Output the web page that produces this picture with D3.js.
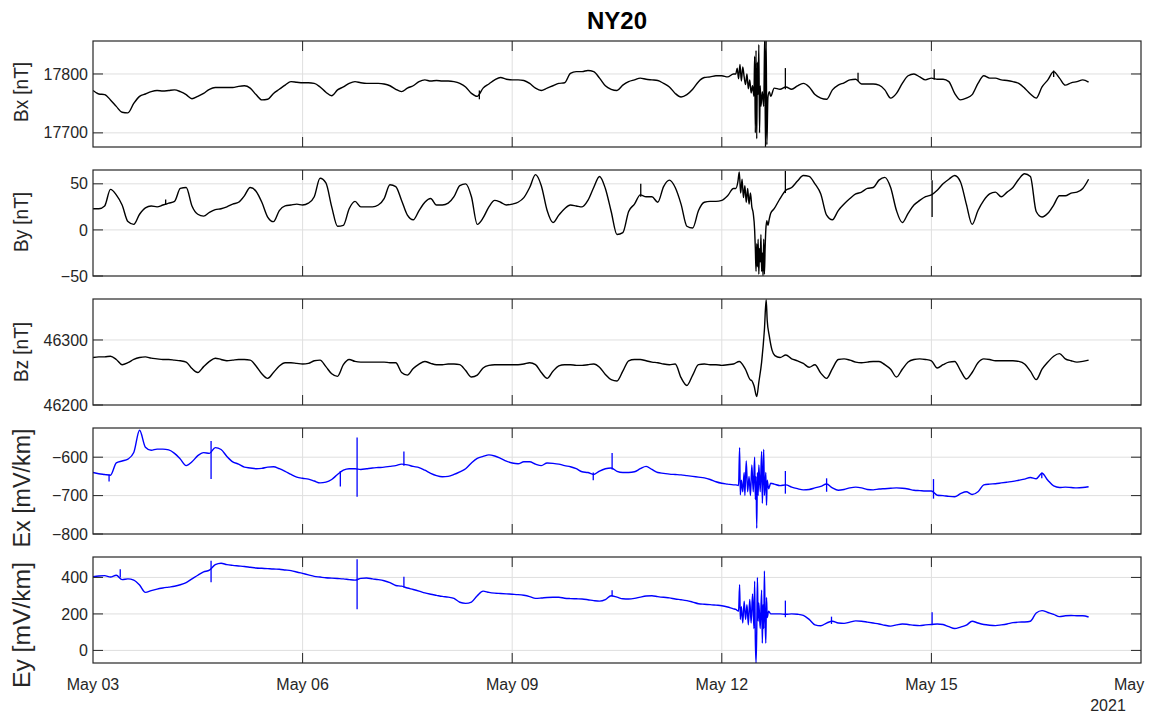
<!DOCTYPE html>
<html>
<head>
<meta charset="utf-8">
<script src="https://cdn.jsdelivr.net/npm/d3@7/dist/d3.min.js"></script>
<style>
  html, body { margin: 0; padding: 0; background: #fff; }
  svg { display: block; font-family: "Liberation Sans", Arial, Helvetica, sans-serif; }
</style>
</head>
<body>
<svg id="chart" width="1151" height="719"></svg>
<script>
// Station NY20, magnetic (Bx, By, Bz) and geoelectric (Ex, Ey) field, May 2021.
// Samples every 2 hours from 2021-05-03 00:00 (12 per day, one row per day).
const startTime = new Date(2021, 4, 3, 0, 0, 0);
const sampleHours = 2;

const bx = [
  17772,17766,17765,17756,17745,17735,17734,17750,17762,17766,17770,17772,
  17771,17772,17773,17770,17765,17758,17762,17767,17774,17777,17777,17777,
  17777,17779,17780,17776,17765,17756,17757,17767,17774,17781,17787,17786,
  17785,17785,17784,17778,17769,17763,17773,17778,17784,17787,17785,17784,
  17784,17784,17783,17780,17774,17770,17776,17780,17787,17790,17788,17789,
  17788,17788,17787,17784,17778,17767,17762,17776,17783,17790,17794,17791,
  17790,17790,17789,17784,17776,17772,17776,17780,17784,17785,17801,17804,
  17804,17806,17804,17793,17780,17774,17772,17781,17787,17790,17793,17791,
  17790,17789,17784,17778,17767,17761,17765,17774,17787,17794,17795,17797,
  17797,17795,17800,17812,17790,17781,17767,17756,17762,17776,17774,17778,
  17774,17780,17784,17778,17765,17759,17757,17773,17781,17785,17790,17791,
  17783,17783,17783,17781,17773,17759,17767,17784,17797,17800,17795,17790,
  17793,17791,17791,17787,17767,17756,17759,17765,17784,17797,17793,17793,
  17790,17789,17787,17784,17776,17766,17759,17778,17790,17804,17793,17781,
  17785,17787,17790,17786
];
const by = [
  23,23,26,44,38,27,9,6,17,24,26,25,
  27,29,31,45,46,26,17,15,19,22,23,25,
  28,30,37,46,42,30,14,9,21,26,27,28,
  27,29,36,56,51,25,4,5,23,31,25,25,
  25,27,34,49,47,32,16,11,21,30,34,27,
  27,29,36,48,50,36,6,13,25,32,30,27,
  28,30,35,46,60,48,21,8,16,23,27,26,
  25,32,46,58,45,20,-5,-3,20,28,38,36,
  36,30,47,54,46,28,4,2,21,30,31,31,
  32,37,45,57,41,36,0,0,7,23,34,43,
  46,53,59,58,50,39,16,11,21,28,34,39,
  41,45,46,54,57,46,21,8,18,27,32,36,
  38,43,50,55,59,52,28,6,21,32,39,41,
  36,41,46,55,61,58,20,14,18,27,37,37,
  40,41,45,55
];
const bz = [
  46273,46274,46274,46275,46270,46262,46265,46270,46273,46274,46272,46271,
  46270,46270,46269,46268,46266,46256,46250,46259,46267,46272,46270,46268,
  46269,46270,46270,46269,46260,46248,46241,46250,46260,46265,46265,46264,
  46263,46264,46268,46269,46259,46248,46244,46262,46270,46267,46266,46266,
  46266,46266,46266,46265,46265,46250,46246,46256,46263,46267,46264,46262,
  46262,46263,46263,46262,46253,46243,46246,46257,46261,46262,46262,46262,
  46262,46262,46263,46265,46262,46250,46241,46252,46260,46262,46262,46261,
  46261,46262,46263,46258,46247,46239,46237,46252,46268,46270,46270,46268,
  46266,46265,46263,46262,46263,46242,46230,46246,46262,46263,46262,46262,
  46261,46262,46263,46267,46256,46238,46215,46250,46306,46278,46273,46277,
  46271,46268,46264,46258,46262,46249,46241,46256,46270,46271,46269,46266,
  46265,46266,46267,46267,46262,46255,46243,46255,46266,46270,46271,46270,
  46268,46257,46262,46266,46267,46253,46240,46250,46265,46271,46270,46268,
  46268,46268,46268,46267,46263,46252,46239,46255,46266,46275,46279,46271,
  46268,46266,46267,46269
];
const ex = [
  -640,-643,-645,-647,-615,-610,-605,-588,-530,-574,-582,-579,
  -579,-581,-590,-605,-622,-612,-596,-588,-590,-575,-580,-598,
  -612,-618,-626,-628,-630,-629,-626,-625,-630,-637,-645,-652,
  -655,-657,-662,-667,-665,-658,-645,-634,-630,-630,-632,-630,
  -628,-627,-626,-624,-622,-618,-620,-624,-627,-634,-642,-648,
  -651,-650,-645,-638,-630,-615,-603,-598,-594,-597,-603,-610,
  -615,-617,-612,-612,-618,-622,-615,-616,-618,-622,-625,-630,
  -638,-640,-645,-636,-630,-628,-637,-640,-640,-638,-630,-624,
  -632,-640,-642,-644,-645,-646,-648,-650,-652,-654,-658,-664,
  -668,-670,-672,-674,-680,-675,-700,-690,-680,-670,-674,-672,
  -678,-682,-685,-684,-680,-676,-670,-680,-686,-684,-680,-678,
  -680,-684,-685,-683,-682,-681,-680,-681,-683,-686,-687,-688,
  -688,-699,-700,-702,-703,-695,-690,-697,-690,-672,-670,-669,
  -667,-665,-663,-660,-657,-653,-656,-642,-660,-675,-679,-678,
  -679,-680,-679,-677
];
const ey = [
  404,408,410,402,412,388,392,385,358,318,328,336,
  342,347,352,360,372,392,412,430,440,470,478,470,
  466,463,460,456,452,450,448,446,445,441,437,430,
  422,414,406,402,398,396,394,392,388,385,395,397,
  392,388,382,372,356,352,342,334,325,315,308,302,
  296,292,285,264,258,265,300,325,318,314,312,310,
  308,306,302,295,285,287,290,291,291,286,284,283,
  282,278,273,270,278,300,292,283,282,285,292,298,
  300,295,291,288,282,278,273,265,256,253,251,248,
  245,238,228,215,220,200,180,210,205,200,200,198,
  200,198,192,170,140,135,150,160,150,148,155,162,
  160,155,150,145,138,133,140,145,142,138,136,140,
  142,145,142,130,120,128,138,160,150,142,138,136,
  140,145,152,155,156,160,205,218,208,198,185,190,
  191,190,190,183
];

// Storm interval of 12 May: denser readings, [day offset from May 03, value]
const bxStorm = [
  [9.20,17800],[9.22,17810],[9.24,17792],[9.26,17816],[9.28,17788],[9.30,17812],[9.32,17795],
  [9.34,17782],[9.36,17800],[9.38,17775],[9.40,17790],[9.42,17768],[9.44,17780],[9.46,17762],
  [9.47,17830],[9.48,17700],[9.49,17840],[9.50,17690],[9.51,17820],[9.52,17765],[9.53,17850],
  [9.54,17700],[9.55,17780],[9.56,17745],[9.58,17770],[9.60,17745],[9.615,17870],[9.625,17670],
  [9.635,17860],[9.645,17680],[9.66,17760],[9.68,17770],[9.70,17762]
];
const byStorm = [
  [9.20,45],[9.23,52],[9.25,63],[9.27,40],[9.29,55],[9.31,35],[9.33,48],[9.35,30],[9.37,45],
  [9.39,28],[9.41,40],[9.43,25],[9.45,18],[9.47,0],[9.48,-20],[9.49,-45],[9.50,-15],[9.51,-40],
  [9.52,-10],[9.53,-48],[9.54,-20],[9.55,-35],[9.56,-5],[9.57,-45],[9.58,-25],[9.59,-50],
  [9.60,-10],[9.61,-48],[9.62,-20],[9.63,0],[9.645,10],[9.66,5],[9.68,12],[9.70,18]
];
const bzStorm = [
  [9.42,46238],[9.46,46230],[9.50,46213],[9.53,46235],[9.57,46266],[9.61,46316],
  [9.635,46362],[9.65,46330],[9.68,46306],[9.72,46284],[9.76,46276]
];
const exStorm = [
  [9.20,-672],[9.24,-674],[9.255,-575],[9.265,-698],[9.28,-660],[9.30,-690],[9.32,-640],
  [9.33,-700],[9.35,-610],[9.37,-690],[9.39,-650],[9.41,-700],[9.43,-620],[9.45,-690],
  [9.47,-600],[9.48,-710],[9.49,-650],[9.50,-785],[9.51,-640],[9.52,-700],[9.53,-620],
  [9.55,-690],[9.57,-585],[9.58,-720],[9.59,-650],[9.60,-580],[9.61,-700],[9.63,-640],
  [9.64,-725],[9.65,-660],[9.67,-682],[9.70,-668]
];
const eyStorm = [
  [9.20,225],[9.24,215],[9.255,360],[9.265,170],[9.28,240],[9.30,150],[9.32,270],[9.34,170],
  [9.36,250],[9.38,140],[9.40,280],[9.42,150],[9.44,310],[9.46,120],[9.47,380],[9.48,60],
  [9.49,-70],[9.50,100],[9.51,400],[9.52,160],[9.53,260],[9.55,120],[9.57,330],[9.58,40],
  [9.59,250],[9.60,120],[9.61,436],[9.62,160],[9.63,40],[9.64,290],[9.65,180],[9.67,215],
  [9.70,200]
];

// Short impulsive spikes: [day offset, low, high]
const bxSpikes = [[5.53,17757,17772],[9.91,17774,17810],[10.95,17788,17802],[12.04,17790,17808],[13.75,17795,17806]];
const bySpikes = [[1.04,27,33],[7.84,36,50],[9.91,40,64],[12.01,14,54]];
const bzSpikes = [];
const exSpikes = [[0.23,-663,-645],[1.69,-657,-558],[3.54,-676,-636],[3.78,-703,-549],[4.45,-622,-585],
  [7.16,-660,-640],[7.43,-632,-589],[9.91,-695,-636],[10.5,-690,-655],[12.03,-708,-657],[13.58,-655,-640]];
const eySpikes = [[0.39,400,445],[1.69,373,491],[3.78,225,500],[4.45,345,404],[7.43,295,330],
  [9.91,182,273],[10.57,145,185],[12.01,140,209]];

// Axis settings
const yLabels = ["Bx [nT]", "By [nT]", "Bz [nT]", "Ex [mV/km]", "Ey [mV/km]"];
const yDomains = [[17676,17856],[-50,65],[46200,46363],[-800,-524],[-69,512]];
const yTicks = [[17700,17800],[-50,0,50],[46200,46300],[-800,-700,-600],[0,200,400]];
const lineColors = ["#000000","#000000","#000000","#0000ff","#0000ff"];
const xTickDays = [0,3,6,9,12,15];
const xTickLabels = ["May 03","May 06","May 09","May 12","May 15","May"];
const yearLabel = "2021";
const titleText = "NY20";

const dayMs = 864e5;
const dayToDate = d => new Date(+startTime + d * dayMs);

function buildSeries(values, storm) {
  let pts = values.map((v, i) => [new Date(+startTime + i * sampleHours * 36e5), v]);
  if (storm && storm.length) {
    const a = dayToDate(storm[0][0]), b = dayToDate(storm[storm.length - 1][0]);
    pts = pts.filter(p => p[0] < a || p[0] > b)
      .concat(storm.map(s => [dayToDate(s[0]), s[1]]))
      .sort((p, q) => p[0] - q[0]);
  }
  return pts;
}

// Label style per panel: font size, rendered length, x of baseline, vertical shift
const labelStyle = [
  { size: 21, len: 60, bx: 28, shift: -2 },
  { size: 21, len: 60, bx: 28, shift: -1 },
  { size: 21, len: 60, bx: 28, shift: 0 },
  { size: 23, len: 119, bx: 30, shift: 7 },
  { size: 23, len: 126, bx: 30, shift: 15 }
];

const panels = [
  { values: bx, storm: bxStorm, spikes: bxSpikes },
  { values: by, storm: byStorm, spikes: bySpikes },
  { values: bz, storm: bzStorm, spikes: bzSpikes },
  { values: ex, storm: exStorm, spikes: exSpikes },
  { values: ey, storm: eyStorm, spikes: eySpikes }
].map((p, i) => Object.assign(p, {
  label: yLabels[i], ls: labelStyle[i], domain: yDomains[i], ticks: yTicks[i], color: lineColors[i]
}));

// Layout
const left = 93, right = 1141;
const panelTop = [41, 170, 299, 428, 557];
const panelH = 106;
const tickLen = 10;
const frameColor = "#262626";
const gridColor = "#dfdfdf";
const textColor = "#262626";

const svg = d3.select("#chart");
const x = d3.scaleTime().domain([dayToDate(0), dayToDate(15)]).range([left, right]);
const xTickDates = xTickDays.map(dayToDate);

svg.append("text")
  .attr("x", (left + right) / 2).attr("y", 29)
  .attr("text-anchor", "middle")
  .attr("font-size", 24).attr("font-weight", "bold")
  .attr("fill", "#000")
  .text(titleText);

panels.forEach((p, i) => {
  const top = panelTop[i], bottom = top + panelH;
  const y = d3.scaleLinear().domain(p.domain).range([bottom, top]);
  const g = svg.append("g");

  const clipId = "clip" + i;
  svg.append("clipPath").attr("id", clipId)
    .append("rect").attr("x", left).attr("y", top).attr("width", right - left).attr("height", panelH);

  // grid
  g.selectAll(".gx").data(xTickDates.slice(1, -1)).join("line")
    .attr("x1", d => x(d)).attr("x2", d => x(d)).attr("y1", top).attr("y2", bottom)
    .attr("stroke", gridColor).attr("stroke-width", 1);
  g.selectAll(".gy").data(p.ticks.filter(t => y(t) > top + 1 && y(t) < bottom - 1)).join("line")
    .attr("x1", left).attr("x2", right).attr("y1", d => y(d)).attr("y2", d => y(d))
    .attr("stroke", gridColor).attr("stroke-width", 1);

  // data
  const pts = buildSeries(p.values, p.storm);
  const line = d3.line().curve(d3.curveMonotoneX).x(d => x(d[0])).y(d => y(d[1]));
  const dg = g.append("g").attr("clip-path", `url(#${clipId})`);
  dg.append("path").datum(pts)
    .attr("fill", "none").attr("stroke", p.color).attr("stroke-width", 1.4)
    .attr("stroke-linejoin", "round")
    .attr("d", line);
  dg.selectAll(".spk").data(p.spikes).join("line")
    .attr("x1", d => x(dayToDate(d[0]))).attr("x2", d => x(dayToDate(d[0])))
    .attr("y1", d => y(d[1])).attr("y2", d => y(d[2]))
    .attr("stroke", p.color).attr("stroke-width", 1.3);

  // frame
  g.append("rect").attr("x", left).attr("y", top).attr("width", right - left).attr("height", panelH)
    .attr("fill", "none").attr("stroke", frameColor).attr("stroke-width", 1.2);

  // inward ticks on all four sides
  const xt = xTickDates.slice(1, -1);
  g.selectAll(".tb").data(xt).join("line")
    .attr("x1", d => x(d)).attr("x2", d => x(d)).attr("y1", bottom).attr("y2", bottom - tickLen)
    .attr("stroke", frameColor);
  g.selectAll(".tt").data(xt).join("line")
    .attr("x1", d => x(d)).attr("x2", d => x(d)).attr("y1", top).attr("y2", top + tickLen)
    .attr("stroke", frameColor);
  g.selectAll(".tl").data(p.ticks).join("line")
    .attr("x1", left).attr("x2", left + tickLen).attr("y1", d => y(d)).attr("y2", d => y(d))
    .attr("stroke", frameColor);
  g.selectAll(".tr").data(p.ticks).join("line")
    .attr("x1", right).attr("x2", right - tickLen).attr("y1", d => y(d)).attr("y2", d => y(d))
    .attr("stroke", frameColor);

  // y tick labels
  g.selectAll(".yl").data(p.ticks).join("text")
    .attr("x", left - 5).attr("y", d => y(d)).attr("dy", "0.35em")
    .attr("text-anchor", "end").attr("font-size", 16).attr("fill", textColor)
    .text(d => d3.format("d")(d));

  // y axis title
  g.append("text")
    .attr("transform", `translate(${p.ls.bx},${top + panelH / 2 + p.ls.shift}) rotate(-90)`)
    .attr("text-anchor", "middle").attr("font-size", p.ls.size).attr("fill", textColor)
    .attr("textLength", p.ls.len).attr("lengthAdjust", "spacingAndGlyphs")
    .text(p.label);

  if (i === panels.length - 1) {
    g.selectAll(".xl").data(xTickDates).join("text")
      .attr("x", (d, k) => k === xTickDates.length - 1 ? x(d) - 27 : x(d))
      .attr("y", bottom + 27)
      .attr("text-anchor", (d, k) => k === xTickDates.length - 1 ? "start" : "middle")
      .attr("font-size", 16).attr("fill", textColor)
      .text((d, k) => xTickLabels[k]);
    g.append("text")
      .attr("x", 1108).attr("y", bottom + 48)
      .attr("text-anchor", "middle").attr("font-size", 16).attr("fill", textColor)
      .text(yearLabel);
  }
});
</script>
</body>
</html>
